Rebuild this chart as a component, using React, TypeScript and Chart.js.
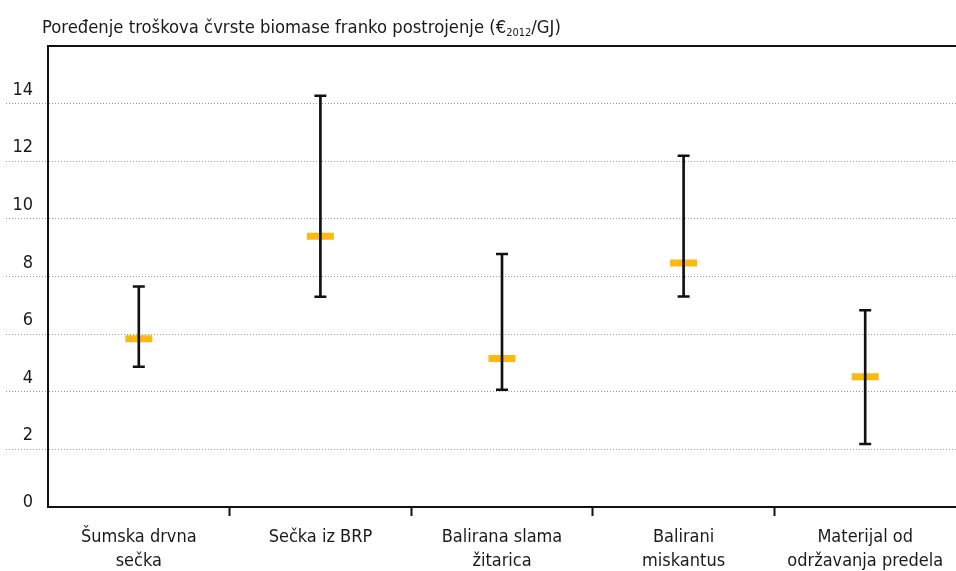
import React, { useEffect, useRef } from "react";
import { Chart, registerables } from "chart.js";

Chart.register(...registerables);

const categories: string[][] = [
  ["Šumska drvna", "sečka"],
  ["Sečka iz BRP"],
  ["Balirana slama", "žitarica"],
  ["Balirani", "miskantus"],
  ["Materijal od", "održavanja predela"],
];
const minValues = [4.87, 7.3, 4.07, 7.31, 2.19];
const maxValues = [7.65, 14.27, 8.78, 12.19, 6.83];
const meanValues = [5.84, 9.4, 5.15, 8.47, 4.52];
const yTickLabels = ["0", "2", "4", "6", "8", "10", "12", "14"];
const titleMain = "Poređenje troškova čvrste biomase franko postrojenje (€";
const titleSub = "2012";
const titleEnd = "/GJ)";

const FONT = "'DejaVu Sans Condensed', 'Liberation Sans', sans-serif";
const TEXT = "#1a1a1a";

const customText = {
  id: "customText",
  afterDraw(chart: any) {
    const ctx = chart.ctx;
    ctx.save();
    ctx.fillStyle = TEXT;
    ctx.textBaseline = "alphabetic";
    ctx.textAlign = "left";
    ctx.font = `18.3px ${FONT}`;
    let x = 42;
    const base = 33;
    ctx.fillText(titleMain, x, base);
    x += ctx.measureText(titleMain).width;
    ctx.font = `11px ${FONT}`;
    ctx.fillText(titleSub, x, base + 3);
    x += ctx.measureText(titleSub).width;
    ctx.font = `18.3px ${FONT}`;
    ctx.fillText(titleEnd, x, base);
    const y = chart.scales.y;
    ctx.font = `18px ${FONT}`;
    ctx.textAlign = "right";
    yTickLabels.forEach((lab) => {
      const v = Number(lab);
      const py = y.getPixelForValue(v);
      ctx.fillText(lab, 33, v === 0 ? py : py - 9);
    });
    ctx.restore();
  },
};

export default function App() {
  const ref = useRef<HTMLCanvasElement | null>(null);
  useEffect(() => {
    if (!ref.current) return;
    const chart = new Chart(ref.current, {
      type: "bar",
      data: {
        labels: categories,
        datasets: [
          {
            type: "line",
            label: "max",
            data: maxValues,
            showLine: false,
            pointStyle: "line",
            pointRadius: 6,
            pointBorderWidth: 2.5,
            borderColor: "#111",
            order: 0,
          } as any,
          {
            type: "line",
            label: "min",
            data: minValues,
            showLine: false,
            pointStyle: "line",
            pointRadius: 6,
            pointBorderWidth: 2.5,
            borderColor: "#111",
            order: 0,
          } as any,
          {
            type: "bar",
            label: "range",
            data: minValues.map((m, i) => [m, maxValues[i]]),
            backgroundColor: "#111",
            borderWidth: 0,
            barThickness: 2,
            order: 1,
          } as any,
          {
            type: "line",
            label: "mean",
            data: meanValues,
            showLine: false,
            pointStyle: "line",
            pointRadius: 13.5,
            pointBorderWidth: 7,
            borderColor: "#FCB813",
            order: 2,
          } as any,
        ],
      },
      options: {
        animation: false,
        responsive: false,
        events: [],
        layout: { autoPadding: false, padding: { left: 6, top: 46, right: 0, bottom: -11 } },
        plugins: {
          legend: { display: false },
          tooltip: { enabled: false },
          title: { display: false },
        },
        scales: {
          x: {
            type: "category",
            offset: true,
            afterFit: (s: any) => {
              s.paddingLeft = 0;
              s.paddingRight = 0;
            },
            grid: {
              offset: true,
              drawOnChartArea: false,
              tickLength: 9,
              tickWidth: 2,
              tickColor: (c: any) =>
                c.type !== "tick" || c.index === 0 ? "transparent" : "#111",
            },
            border: { display: true, color: "#111", width: 2 },
            ticks: {
              autoSkip: false,
              maxRotation: 0,
              minRotation: 0,
              padding: 9,
              color: TEXT,
              font: { family: FONT, size: 18, lineHeight: 24 / 18 },
            },
          },
          y: {
            type: "linear",
            min: 0,
            max: 16,
            ticks: { stepSize: 2, display: false },
            grid: {
              tickLength: 42,
              lineWidth: 1,
              color: (c: any) =>
                c.tick && (c.tick.value === 0 || c.tick.value === 16) ? "transparent" : "#9a9a9a",
              tickColor: (c: any) =>
                c.tick && (c.tick.value === 0 || c.tick.value === 16) ? "transparent" : "#9a9a9a",
              tickBorderDash: [1, 2],
            },
            border: { display: true, color: "#111", width: 2, dash: [1, 2] },
          },
          x2: {
            type: "category",
            position: "top",
            labels: categories.map((c) => c.join(" ")),
            afterFit: (s: any) => {
              s.paddingLeft = 0;
              s.paddingRight = 0;
            },
            grid: { display: false, drawTicks: false },
            ticks: { display: false },
            border: { display: true, color: "#111", width: 2 },
          },
        },
      },
      plugins: [customText],
    } as any);
    return () => chart.destroy();
  }, []);
  return (
    <div style={{ position: "absolute", left: 0, top: 0, width: 956, height: 571, background: "#fff" }}>
      <canvas ref={ref} width={956} height={571} />
    </div>
  );
}
